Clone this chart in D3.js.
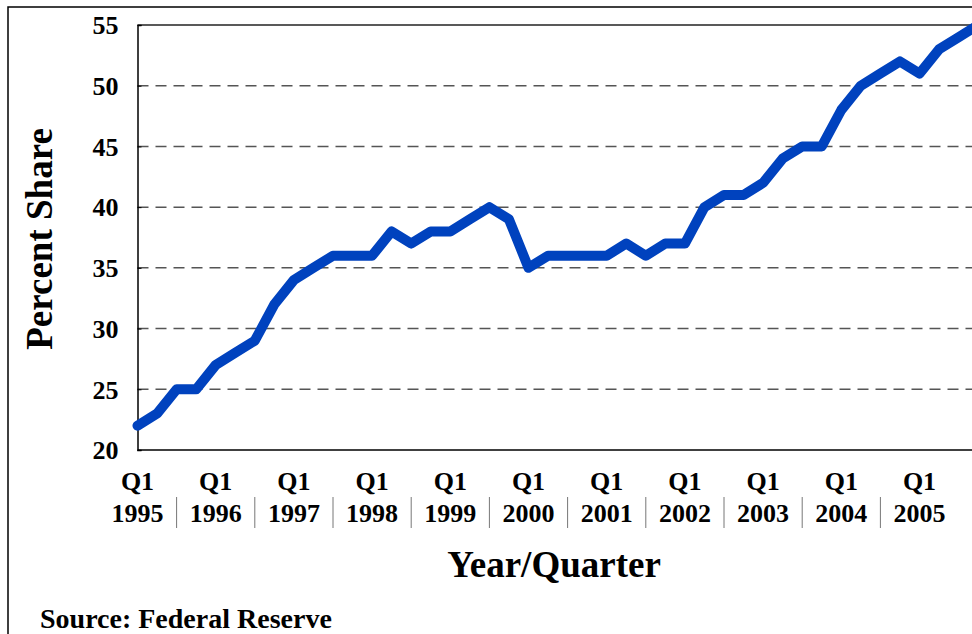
<!DOCTYPE html>
<meta charset="utf-8">
<style>
body { margin: 0; background: #fff; }
text { font-family: "Liberation Serif", "Times New Roman", serif; font-weight: bold; fill: #000; }
.grid line { stroke: #555; stroke-width: 1.5; stroke-dasharray: 11,7; }
</style>
<body>
<svg width="972" height="634"></svg>
<script src="https://d3js.org/d3.v7.min.js"></script>
<script>
var svg = d3.select("svg"),
    width = +svg.attr("width"),
    height = +svg.attr("height");

// quarterly share, Q1 1995 .. Q4 2005
var years = ["1995","1996","1997","1998","1999","2000","2001","2002","2003","2004","2005"];
var quarters = ["Q1","Q2","Q3","Q4"];
var shares = [22,23,25,25, 27,28,29,32, 34,35,36,36, 36,38,37,38,
              38,39,40,39, 35,36,36,36, 36,37,36,37, 37,40,41,41,
              42,44,45,45, 48,50,51,52, 51,53,54,55];
var yTicks = [20,25,30,35,40,45,50,55];

var periods = [];
years.forEach(function(y) {
  quarters.forEach(function(q) { periods.push(q + " " + y); });
});

// plot box (right side runs past the window, as in the original)
var plotLeft = 137.5, plotTop = 25, plotBottom = 450, step = 19.55;

var x = d3.scaleLinear()
    .domain([0, periods.length - 1])
    .range([plotLeft, plotLeft + step * (periods.length - 1)]);

var y = d3.scaleLinear()
    .domain([20, 55])
    .range([plotBottom, plotTop]);

// outer frame
svg.append("path")
    .attr("d", "M8," + height + "V7H" + width)
    .attr("fill", "none")
    .attr("stroke", "#000")
    .attr("stroke-width", 1.5);

// dashed gridlines
svg.append("g")
    .attr("class", "grid")
    .selectAll("line")
    .data(yTicks.filter(function(d) { return d > 20 && d < 55; }))
    .enter().append("line")
    .attr("x1", plotLeft)
    .attr("x2", width)
    .attr("y1", function(d) { return y(d); })
    .attr("y2", function(d) { return y(d); });

// top edge of the plot area
svg.append("line")
    .attr("x1", plotLeft).attr("x2", width)
    .attr("y1", y(55)).attr("y2", y(55))
    .attr("stroke", "#222")
    .attr("stroke-width", 1.5);

// y axis
var yAxis = svg.append("g")
    .attr("transform", "translate(" + plotLeft + ",0)")
    .call(d3.axisLeft(y).tickValues(yTicks).tickSize(-4).tickPadding(19));
yAxis.select(".domain").attr("stroke", "#000").attr("stroke-width", 1.5);
yAxis.selectAll("text").style("font-size", "26px").attr("dy", "0.34em");

// x axis line
svg.append("line")
    .attr("x1", plotLeft).attr("x2", width)
    .attr("y1", plotBottom).attr("y2", plotBottom)
    .attr("stroke", "#000")
    .attr("stroke-width", 1.5);

// the line itself
var line = d3.line()
    .x(function(d, i) { return x(i); })
    .y(function(d) { return y(d); });

svg.append("path")
    .datum(shares)
    .attr("d", line)
    .attr("fill", "none")
    .attr("stroke", "#0042BE")
    .attr("stroke-width", 10)
    .attr("stroke-linecap", "round")
    .attr("stroke-linejoin", "round");

// category labels: Q1 / year at the first quarter of each year
var labels = svg.append("g").selectAll("g")
    .data(years)
    .enter().append("g")
    .attr("transform", function(d, i) { return "translate(" + x(i * 4) + ",0)"; });

labels.append("text")
    .attr("y", 490)
    .attr("text-anchor", "middle")
    .style("font-size", "26px")
    .text(quarters[0]);

labels.append("text")
    .attr("y", 522)
    .attr("text-anchor", "middle")
    .style("font-size", "26px")
    .text(function(d) { return d; });

// separators between year groups
svg.append("g").selectAll("line")
    .data(years.slice(1))
    .enter().append("line")
    .attr("x1", function(d, i) { return x(i * 4 + 2); })
    .attr("x2", function(d, i) { return x(i * 4 + 2); })
    .attr("y1", 497)
    .attr("y2", 528)
    .attr("stroke", "#777")
    .attr("stroke-width", 1);

// axis titles
svg.append("text")
    .attr("x", 554)
    .attr("y", 577)
    .attr("text-anchor", "middle")
    .style("font-size", "37px")
    .text("Year/Quarter");

svg.append("text")
    .attr("transform", "translate(52,239) rotate(-90)")
    .attr("text-anchor", "middle")
    .style("font-size", "37px")
    .text("Percent Share");

svg.append("text")
    .attr("x", 40)
    .attr("y", 628)
    .style("font-size", "28px")
    .text("Source: Federal Reserve");
</script>
</body>
</html>
